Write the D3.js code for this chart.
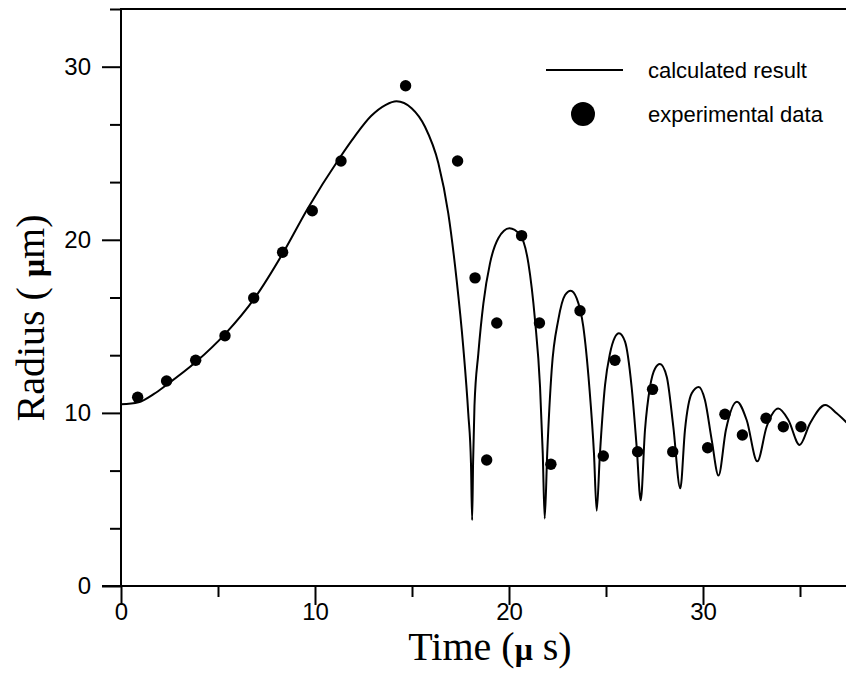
<!DOCTYPE html>
<html>
<head>
<meta charset="utf-8">
<script src="https://cdn.jsdelivr.net/npm/d3@7"></script>
<style>
  body { margin: 0; background: #fff; }
  svg { display: block; }
</style>
</head>
<body>
<div class="drawingboard"></div>
<script>
// calculated radius curve (time in us, radius in um)
var calcTime = [0, 0.9, 1.7, 2.35, 3.87, 5.36, 6.87, 8.33, 9.62, 11.25, 12.03, 12.89, 13.65, 14.2,
    14.98, 15.67, 16.36, 16.87, 17.3, 17.64, 17.9, 18.04, 18.1,
    18.15, 18.22, 18.42, 18.68, 19.02, 19.45, 20.02, 20.57, 21.0, 21.34, 21.6, 21.74, 21.84,
    21.97, 22.2, 22.54, 22.89, 23.18, 23.49, 23.83, 24.14, 24.38, 24.52,
    24.68, 24.95, 25.2, 25.45, 25.67, 25.98, 26.32, 26.58, 26.79,
    27.01, 27.27, 27.53, 27.78, 28.13, 28.47, 28.83,
    29.07, 29.42, 29.78, 30.1, 30.45, 30.8,
    31.18, 31.75, 32.25, 32.8, 33.28, 33.88, 34.4, 34.98, 35.52, 36.3, 36.89, 37.4];
var calcRadius = [10.5, 10.62, 11.1, 11.62, 12.95, 14.55, 16.6, 19.2, 21.8, 24.7, 25.95, 27.15, 27.8, 28.0,
    27.6, 26.53, 24.42, 21.53, 17.68, 13.83, 9.98, 7.09, 3.8,
    7.2, 10.4, 13.44, 16.33, 18.64, 20.09, 20.67, 20.28, 18.64, 15.37, 11.51, 7.66, 3.9,
    7.66, 12.48, 15.37, 16.81, 17.06, 16.62, 14.98, 11.51, 7.66, 4.35,
    7.5, 11.6, 13.4, 14.35, 14.6, 14.12, 11.51, 8.05, 4.95,
    9.01, 11.51, 12.57, 12.82, 12.09, 9.2, 5.64,
    9.01, 11.13, 11.5, 10.74, 8.43, 6.38,
    9.01, 10.65, 9.59, 7.2, 9.2, 10.25, 9.59, 8.15, 9.4, 10.45, 9.98, 9.45];

// experimental points
var expTime = [0.86, 2.35, 3.85, 5.36, 6.84, 8.33, 9.86, 11.34, 14.67, 17.35, 18.25, 18.85, 19.37,
    20.65, 21.57, 22.16, 23.66, 24.86, 25.46, 26.63, 27.4, 28.44, 30.24, 31.13, 32.03, 33.25, 34.14, 35.05];
var expRadius = [10.9, 11.84, 13.04, 14.46, 16.64, 19.28, 21.68, 24.55, 28.9, 24.55, 17.8, 7.28, 15.19,
    20.24, 15.19, 7.03, 15.9, 7.51, 13.04, 7.76, 11.36, 7.76, 7.99, 9.92, 8.72, 9.69, 9.2, 9.2];

var xMajor = [0, 10, 20, 30];
var xMinor = [5, 15, 25, 35];
var yMajor = [0, 10, 20, 30];
var yMinor = [10 / 3, 20 / 3, 40 / 3, 50 / 3, 70 / 3, 80 / 3, 100 / 3];

var legendLabels = ["calculated result", "experimental data"];

var width = 846, height = 696;

var svg = d3.select(".drawingboard")
    .append("svg")
    .attr("width", width)
    .attr("height", height);

var x = d3.scaleLinear().domain([0, 40]).range([121, 897]);
var y = d3.scaleLinear().domain([0, 100 / 3]).range([586, 9]);

var tickFont = "Arial, 'Liberation Sans', sans-serif";
var titleFont = "'Times New Roman', 'Liberation Serif', serif";

// axes: major ticks with labels, minor without
function styleAxis(g) {
    g.select(".domain").remove();
    g.selectAll("line").attr("stroke", "#000").attr("stroke-width", 2);
    g.selectAll("text").attr("fill", "#000").style("font-family", tickFont).style("font-size", "24px");
}

svg.append("g")
    .attr("transform", "translate(0,586)")
    .call(d3.axisBottom(x).tickValues(xMinor).tickSize(11).tickFormat(""))
    .call(styleAxis);

svg.append("g")
    .attr("transform", "translate(0,586)")
    .call(d3.axisBottom(x).tickValues(xMajor).tickSize(19).tickPadding(-2).tickFormat(d3.format("d")))
    .call(styleAxis);

svg.append("g")
    .attr("transform", "translate(121,0)")
    .call(d3.axisLeft(y).tickValues(yMinor).tickSize(11).tickFormat(""))
    .call(styleAxis);

svg.append("g")
    .attr("transform", "translate(121,0)")
    .call(d3.axisLeft(y).tickValues(yMajor).tickSize(19).tickPadding(11).tickFormat(d3.format("d")))
    .call(styleAxis);

// frame lines
svg.append("line")
    .attr("x1", x(0)).attr("x2", x(0))
    .attr("y1", y(0) + 1).attr("y2", y(100 / 3) - 1)
    .attr("stroke", "#000").attr("stroke-width", 2);
svg.append("line")
    .attr("x1", x(0) - 19).attr("x2", width)
    .attr("y1", y(0)).attr("y2", y(0))
    .attr("stroke", "#000").attr("stroke-width", 2);
svg.append("line")
    .attr("x1", x(0) - 1).attr("x2", width)
    .attr("y1", y(100 / 3)).attr("y2", y(100 / 3))
    .attr("stroke", "#000").attr("stroke-width", 2);

// calculated curve
var curveData = calcTime.map(function (t, i) { return [t, calcRadius[i]]; });
var line = d3.line()
    .x(function (d) { return x(d[0]); })
    .y(function (d) { return y(d[1]); })
    .curve(d3.curveMonotoneX);

svg.append("path")
    .datum(curveData)
    .attr("d", line)
    .attr("fill", "none")
    .attr("stroke", "#000")
    .attr("stroke-width", 2);

// experimental dots
svg.selectAll(".dot")
    .data(expTime.map(function (t, i) { return [t, expRadius[i]]; }))
    .enter().append("circle")
    .attr("class", "dot")
    .attr("cx", function (d) { return x(d[0]); })
    .attr("cy", function (d) { return y(d[1]); })
    .attr("r", 5.7)
    .attr("fill", "#000");

// legend
var legend = svg.append("g").attr("transform", "translate(546,70)");
legend.append("line")
    .attr("x1", 0).attr("x2", 77)
    .attr("stroke", "#000").attr("stroke-width", 2);
legend.append("circle")
    .attr("cx", 37).attr("cy", 44).attr("r", 12).attr("fill", "#000");
legend.selectAll("text")
    .data(legendLabels)
    .enter().append("text")
    .attr("x", 102)
    .attr("y", function (d, i) { return 8 + i * 44; })
    .style("font-family", tickFont)
    .style("font-size", "22px")
    .text(function (d) { return d; });

// axis titles
var xt = svg.append("text")
    .attr("x", 490).attr("y", 660)
    .attr("text-anchor", "middle")
    .style("font-family", titleFont)
    .style("font-size", "40px");
xt.append("tspan").text("Time (");
xt.append("tspan").style("font-weight", "bold").style("font-size", "32px").text("\u03bc");
xt.append("tspan").text(" s)");

var yt = svg.append("text")
    .attr("transform", "translate(44,318) rotate(-90)")
    .attr("text-anchor", "middle")
    .style("font-family", titleFont)
    .style("font-size", "40px");
yt.append("tspan").text("Radius ( ");
yt.append("tspan").style("font-weight", "bold").style("font-size", "32px").text("\u03bc");
yt.append("tspan").text("m)");
</script>
</body>
</html>
